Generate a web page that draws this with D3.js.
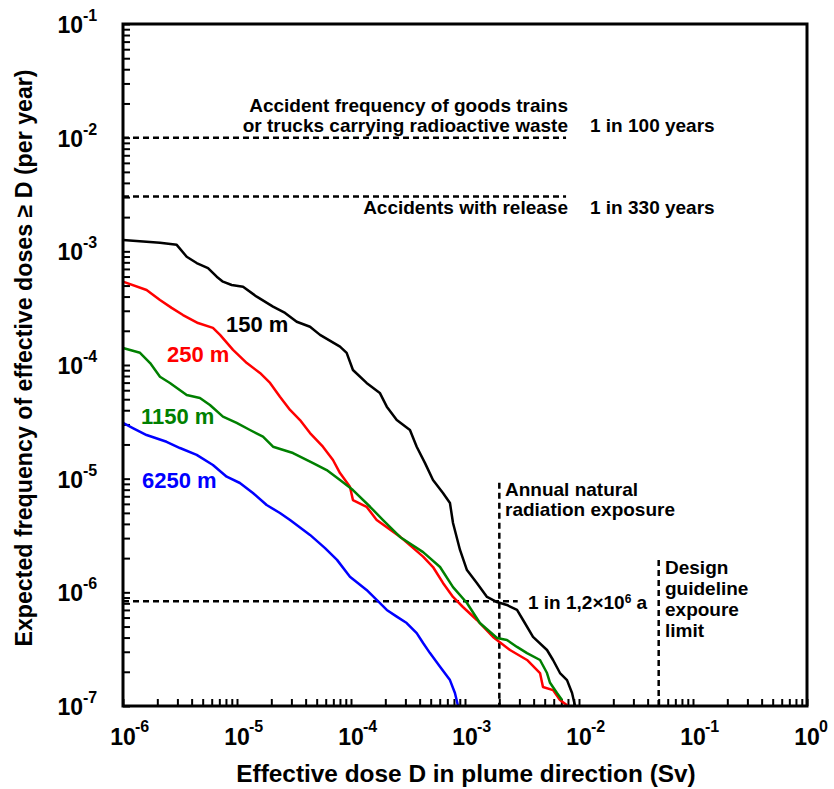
<!DOCTYPE html>
<html>
<head>
<meta charset="utf-8">
<script src="https://cdn.jsdelivr.net/npm/d3@7"></script>
<style>
    body { margin: 0; background: #fff; }
    text { font-family: "Liberation Sans", Arial, sans-serif; font-weight: bold; }
</style>
</head>
<body>
<script>
// values: dose D (Sv) against frequency of doses >= D (per year)
var dose150 = [1.0e-6, 2.11e-6, 2.96e-6, 3.62e-6, 4.43e-6, 5.57e-6, 6.64e-6, 7.53e-6, 8.98e-6, 1.13e-5,
    1.49e-5, 2.07e-5, 2.64e-5, 3.34e-5, 4.37e-5, 5.35e-5, 8.01e-5, 9.16e-5, 1.04e-4, 1.37e-4,
    1.79e-4, 2.06e-4, 2.52e-4, 3.29e-4, 3.77e-4, 4.46e-4, 5.24e-4, 6.41e-4, 7.38e-4, 7.85e-4,
    9.04e-4, 1.04e-3, 1.27e-3, 1.56e-3, 1.91e-3, 2.33e-3, 2.86e-3, 3.23e-3, 3.95e-3, 5.24e-3,
    5.92e-3, 6.81e-3, 7.85e-3, 8.69e-3, 9.23e-3];
var freq150 = [1.26e-3, 1.19e-3, 1.14e-3, 8.97e-4, 7.89e-4, 7.13e-4, 5.98e-4, 5.41e-4, 5.06e-4, 4.89e-4,
    3.99e-4, 3.26e-4, 2.87e-4, 2.40e-4, 2.17e-4, 1.84e-4, 1.45e-4, 1.28e-4, 9.04e-5, 6.95e-5,
    5.68e-5, 4.30e-5, 3.28e-5, 2.68e-5, 1.91e-5, 1.37e-5, 9.73e-6, 7.48e-6, 6.11e-6, 4.07e-6,
    2.36e-6, 1.57e-6, 1.21e-6, 9.10e-7, 8.22e-7, 7.74e-7, 7.00e-7, 5.71e-7, 4.05e-7, 3.11e-7,
    2.54e-7, 1.95e-7, 1.69e-7, 1.30e-7, 1.0e-7];

var dose250 = [1.0e-6, 1.61e-6, 2.11e-6, 2.67e-6, 3.36e-6, 4.55e-6, 6.15e-6, 7.10e-6, 9.23e-6, 1.22e-5,
    1.59e-5, 1.95e-5, 2.38e-5, 2.92e-5, 3.57e-5, 4.37e-5, 5.67e-5, 6.95e-5, 8.01e-5, 9.79e-5,
    1.04e-4, 1.37e-4, 1.68e-4, 2.69e-4, 4.29e-4, 5.24e-4, 6.41e-4, 7.85e-4, 9.59e-4, 1.27e-3,
    1.76e-3, 2.48e-3, 3.50e-3, 4.55e-3, 4.83e-3, 5.92e-3, 6.81e-3, 8.02e-3];
var freq250 = [5.41e-4, 4.57e-4, 3.73e-4, 3.18e-4, 2.75e-4, 2.34e-4, 2.12e-4, 1.84e-4, 1.36e-4, 1.04e-4,
    8.51e-5, 6.95e-5, 5.26e-5, 4.02e-5, 3.28e-5, 2.52e-5, 1.91e-5, 1.46e-5, 1.12e-5, 8.49e-6,
    6.49e-6, 5.66e-6, 4.32e-6, 3.09e-6, 2.06e-6, 1.67e-6, 1.21e-6, 9.10e-7, 7.43e-7, 5.71e-7,
    4.05e-7, 3.11e-7, 2.54e-7, 1.95e-7, 1.47e-7, 1.38e-7, 1.13e-7, 1.0e-7];

var dose1150 = [1.0e-6, 1.41e-6, 1.73e-6, 2.11e-6, 2.58e-6, 3.62e-6, 4.73e-6, 5.79e-6, 7.53e-6, 9.93e-6,
    1.30e-5, 1.69e-5, 2.07e-5, 3.10e-5, 4.65e-5, 6.12e-5, 8.01e-5, 1.04e-4, 1.47e-4, 1.91e-4,
    2.69e-4, 4.29e-4, 6.04e-4, 7.85e-4, 1.04e-3, 1.35e-3, 1.91e-3, 2.33e-3, 2.86e-3, 3.50e-3,
    4.55e-3, 5.24e-3, 5.57e-3, 6.41e-3, 7.10e-3];
var freq1150 = [1.41e-4, 1.28e-4, 1.04e-4, 7.89e-5, 6.95e-5, 5.45e-5, 5.13e-5, 4.45e-5, 3.51e-5, 3.09e-5,
    2.68e-5, 2.34e-5, 1.91e-5, 1.68e-5, 1.37e-5, 1.19e-5, 9.73e-6, 7.94e-6, 5.66e-6, 4.32e-6,
    3.07e-6, 2.26e-6, 1.67e-6, 1.11e-6, 8.05e-7, 5.37e-7, 3.96e-7, 3.81e-7, 3.31e-7, 2.92e-7,
    2.54e-7, 1.95e-7, 1.60e-7, 1.30e-7, 1.13e-7];

var dose6250 = [1.0e-6, 1.22e-6, 1.61e-6, 2.41e-6, 3.16e-6, 4.43e-6, 6.15e-6, 8.12e-6, 1.06e-5, 1.38e-5,
    1.82e-5, 2.38e-5, 2.92e-5, 4.37e-5, 5.92e-5, 7.54e-5, 9.79e-5, 1.37e-4, 1.68e-4, 2.06e-4,
    2.52e-4, 3.08e-4, 3.77e-4, 4.29e-4, 4.93e-4, 6.04e-4, 7.38e-4, 8.16e-4, 8.69e-4];
var freq6250 = [3.09e-5, 2.79e-5, 2.42e-5, 2.11e-5, 1.86e-5, 1.62e-5, 1.32e-5, 1.04e-5, 9.16e-6, 7.48e-6,
    5.86e-6, 4.99e-6, 4.32e-6, 3.20e-6, 2.45e-6, 1.93e-6, 1.37e-6, 1.05e-6, 8.57e-7, 7.00e-7,
    6.11e-7, 5.37e-7, 4.38e-7, 3.58e-7, 2.92e-7, 2.22e-7, 1.69e-7, 1.30e-7, 1.0e-7];

var seriesNames = ["150 m", "250 m", "1150 m", "6250 m"];
var seriesColors = ["#000000", "#ff0000", "#008000", "#0000ff"];

// tick labels, written as exponents of ten
var xExponents = ["-6", "-5", "-4", "-3", "-2", "-1", "0"];
var yExponents = ["-1", "-2", "-3", "-4", "-5", "-6", "-7"];

// reference levels
var trainFreq = 1e-2;        // 1 in 100 years
var releaseFreq = 1 / 330;   // 1 in 330 years
var limitFreq = 1 / 1.2e6;   // 1 in 1,2x10^6 a
var naturalDose = 2e-3;      // annual natural radiation exposure (Sv)
var designDose = 5e-2;       // design guideline exposure limit (Sv)

window.onload = function () {

    var w = 834, h = 789;
    var left = 123, right = 807, top = 24, bottom = 706;

    var svg = d3.select("body")
        .append("svg")
        .attr("width", w)
        .attr("height", h);

    var x = d3.scaleLog()
        .domain([1e-6, 1])
        .range([left, right]);

    var y = d3.scaleLog()
        .domain([1e-7, 1e-1])
        .range([bottom, top]);

    //ticks only, labels are drawn by hand because of the superscripts
    var xAxis = d3.axisBottom(x)
        .tickValues(x.ticks())
        .tickSizeInner(-7)
        .tickSizeOuter(0)
        .tickFormat("");

    svg.append("g")
        .attr("class", "x axis")
        .attr("transform", "translate(0," + bottom + ")")
        .call(xAxis)
        .call(function (g) {
            g.select(".domain").remove();
            g.selectAll(".tick line").attr("stroke", "#000").attr("stroke-width", 2);
        });

    var yAxis = d3.axisLeft(y)
        .tickValues(y.ticks())
        .tickSizeInner(-7)
        .tickSizeOuter(0)
        .tickFormat("");

    svg.append("g")
        .attr("class", "y axis")
        .attr("transform", "translate(" + left + ",0)")
        .call(yAxis)
        .call(function (g) {
            g.select(".domain").remove();
            g.selectAll(".tick line").attr("stroke", "#000").attr("stroke-width", 2);
        });

    // x tick labels: "10" centred on the tick, exponent to the right
    var xLab = svg.selectAll(".xlab")
        .data(xExponents)
        .enter()
        .append("g")
        .attr("class", "xlab")
        .attr("transform", function (d) {
            return "translate(" + x(Math.pow(10, +d)) + "," + 745 + ")";
        });
    xLab.append("text")
        .attr("text-anchor", "middle")
        .style("font-size", "23px")
        .text("10");
    xLab.append("text")
        .attr("x", 12)
        .attr("y", -13)
        .style("font-size", "16px")
        .text(function (d) { return d; });

    var yLab = svg.selectAll(".ylab")
        .data(yExponents)
        .enter()
        .append("g")
        .attr("class", "ylab")
        .attr("transform", function (d) {
            return "translate(" + 83 + "," + y(Math.pow(10, +d)) + ")";
        });
    yLab.append("text")
        .attr("text-anchor", "end")
        .attr("y", 9)
        .style("font-size", "23px")
        .text("10");
    yLab.append("text")
        .attr("x", 0)
        .attr("y", -3)
        .style("font-size", "16px")
        .text(function (d) { return d; });

    // axis titles
    svg.append("text")
        .attr("x", (left + right) / 2 + 1)
        .attr("y", 782)
        .attr("text-anchor", "middle")
        .style("font-size", "24.4px")
        .text("Effective dose D in plume direction (Sv)");

    svg.append("text")
        .attr("transform", "translate(32," + 358 + ") rotate(-90)")
        .attr("text-anchor", "middle")
        .style("font-size", "23.2px")
        .text("Expected frequency of effective doses \u2265 D (per year)");

    // reference lines
    var dashed = function (x1, y1, x2, y2) {
        svg.append("line")
            .attr("x1", x1).attr("y1", y1)
            .attr("x2", x2).attr("y2", y2)
            .attr("stroke", "#000")
            .attr("stroke-width", 2.5)
            .attr("stroke-dasharray", "6,4");
    };

    dashed(left, y(trainFreq), x(7.7e-3), y(trainFreq));
    dashed(left, y(releaseFreq), x(7.7e-3), y(releaseFreq));
    dashed(left, y(limitFreq), x(2.9e-3), y(limitFreq));
    dashed(x(naturalDose), y(9.2e-6), x(naturalDose), bottom);
    dashed(x(designDose), y(1.93e-6), x(designDose), bottom);

    var note = function (tx, ty, str, anchor) {
        return svg.append("text")
            .attr("x", tx)
            .attr("y", ty)
            .attr("text-anchor", anchor || "start")
            .style("font-size", "19px")
            .text(str);
    };

    note(568, 112, "Accident frequency of goods trains", "end");
    note(568, 132, "or trucks carrying radioactive waste", "end");
    note(590, 132, "1 in 100 years");
    note(568, 214, "Accidents with release", "end");
    note(590, 214, "1 in 330 years");

    note(505, 496, "Annual natural");
    note(505, 516, "radiation exposure");

    var lim = note(528, 609, "1 in 1,2\u00d710");
    lim.append("tspan").attr("dy", -6).style("font-size", "12px").text("6");
    lim.append("tspan").attr("dy", 6).text(" a");

    var design = ["Design", "guideline", "expoure", "limit"];
    design.forEach(function (s, i) {
        note(665, 574 + i * 21, s);
    });

    // curves
    var curveData = [
        d3.zip(dose150, freq150),
        d3.zip(dose250, freq250),
        d3.zip(dose1150, freq1150),
        d3.zip(dose6250, freq6250)
    ];

    var line = d3.line()
        .x(function (d) { return x(d[0]); })
        .y(function (d) { return y(d[1]); });

    svg.selectAll(".curve")
        .data(curveData)
        .enter()
        .append("path")
        .attr("class", "curve")
        .attr("d", line)
        .attr("fill", "none")
        .attr("stroke", function (d, i) { return seriesColors[i]; })
        .attr("stroke-width", 2.5)
        .attr("stroke-linejoin", "round");

    //series labels next to the curves
    var labelPos = [[226, 332], [167, 362], [141, 424], [142, 488]];
    svg.selectAll(".serieslabel")
        .data(seriesNames)
        .enter()
        .append("text")
        .attr("class", "serieslabel")
        .attr("x", function (d, i) { return labelPos[i][0]; })
        .attr("y", function (d, i) { return labelPos[i][1]; })
        .style("font-size", "22px")
        .style("fill", function (d, i) { return seriesColors[i]; })
        .text(function (d) { return d; });

    // frame drawn last so it sits on top of the curve ends
    svg.append("rect")
        .attr("x", left)
        .attr("y", top)
        .attr("width", right - left)
        .attr("height", bottom - top)
        .attr("fill", "none")
        .attr("stroke", "#000")
        .attr("stroke-width", 3);
};
</script>
</body>
</html>
